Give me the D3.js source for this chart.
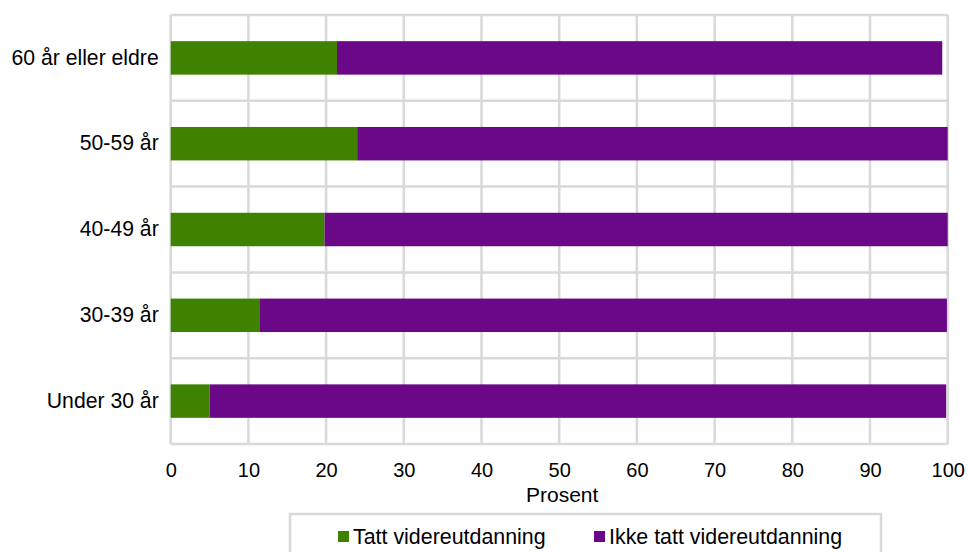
<!DOCTYPE html>
<html><head><meta charset="utf-8">
<script src="https://cdn.jsdelivr.net/npm/d3@7"></script>
<style>body{margin:0;background:#fff}svg{display:block;font-family:"Liberation Sans",Arial,sans-serif}</style>
</head><body><svg id="c" width="968" height="552"></svg>
<script>
const categories = ["60 år eller eldre","50-59 år","40-49 år","30-39 år","Under 30 år"];
const tatt = [21.4, 24.0, 19.8, 11.4, 5.0];
const ikkeTatt = [77.9, 76.0, 80.2, 88.5, 94.8];
const seriesNames = ["Tatt videreutdanning","Ikke tatt videreutdanning"];
const colors = ["#3f8200","#6a0888"];
const xTicks = [0,10,20,30,40,50,60,70,80,90,100];

const svg = d3.select("#c");
const L = 170.7, R = 947.7, T = 15, B = 444;
const x = d3.scaleLinear().domain([0,100]).range([L,R]);
const y = d3.scaleBand().domain(categories).range([T,B]).paddingInner(0.61).paddingOuter(0.305);
const yb = d3.scaleBand().domain(categories).range([T,B]);

// grid
const g = svg.append("g");
g.selectAll("line.v").data(xTicks).join("line")
  .attr("x1",d=>x(d)).attr("x2",d=>x(d)).attr("y1",T).attr("y2",B)
  .attr("stroke","#d9d9d9").attr("stroke-width",2.5);
const hl = [T].concat(categories.map(c=>yb(c)+yb.bandwidth()));
g.selectAll("line.h").data(hl).join("line")
  .attr("x1",L).attr("x2",R).attr("y1",d=>d).attr("y2",d=>d)
  .attr("stroke","#d9d9d9").attr("stroke-width",2.5);

const data = categories.map((c,i)=>({c, a:tatt[i], b:ikkeTatt[i]}));
svg.append("g").selectAll("rect").data(data).join("rect")
  .attr("x",d=>x(0)).attr("y",d=>y(d.c)).attr("width",d=>x(d.a)-x(0)).attr("height",y.bandwidth())
  .attr("fill",colors[0]);
svg.append("g").selectAll("rect").data(data).join("rect")
  .attr("x",d=>x(d.a)).attr("y",d=>y(d.c)).attr("width",d=>x(d.a+d.b)-x(d.a)).attr("height",y.bandwidth())
  .attr("fill",colors[1]);

// axes labels
const xa = svg.append("g").attr("transform",`translate(0,${B})`)
  .call(d3.axisBottom(x).tickValues(xTicks).tickSize(0).tickPadding(0));
xa.select(".domain").remove();
xa.selectAll("text").attr("font-size",20).attr("fill","#000").attr("font-family","Liberation Sans, Arial, sans-serif").attr("dy",null).attr("y",33);

const ya = svg.append("g").attr("transform",`translate(${L},0)`)
  .call(d3.axisLeft(yb).tickSize(0).tickPadding(12));
ya.select(".domain").remove();
ya.selectAll("text").attr("font-size",21.2).attr("fill","#000").attr("font-family","Liberation Sans, Arial, sans-serif");

svg.append("text").attr("x",(L+R)/2+3).attr("y",502).attr("text-anchor","middle")
  .attr("font-size",21).text("Prosent");

// legend
svg.append("rect").attr("x",290).attr("y",514).attr("width",591).attr("height",50)
  .attr("fill","#fff").attr("stroke","#d9d9d9").attr("stroke-width",2.5);
const lx = [338, 594];
seriesNames.forEach((n,i)=>{
  svg.append("rect").attr("x",lx[i]).attr("y",531).attr("width",11).attr("height",11).attr("fill",colors[i]);
  svg.append("text").attr("x",lx[i]+15).attr("y",544).attr("font-size",21.4).text(n);
});
</script></body></html>
